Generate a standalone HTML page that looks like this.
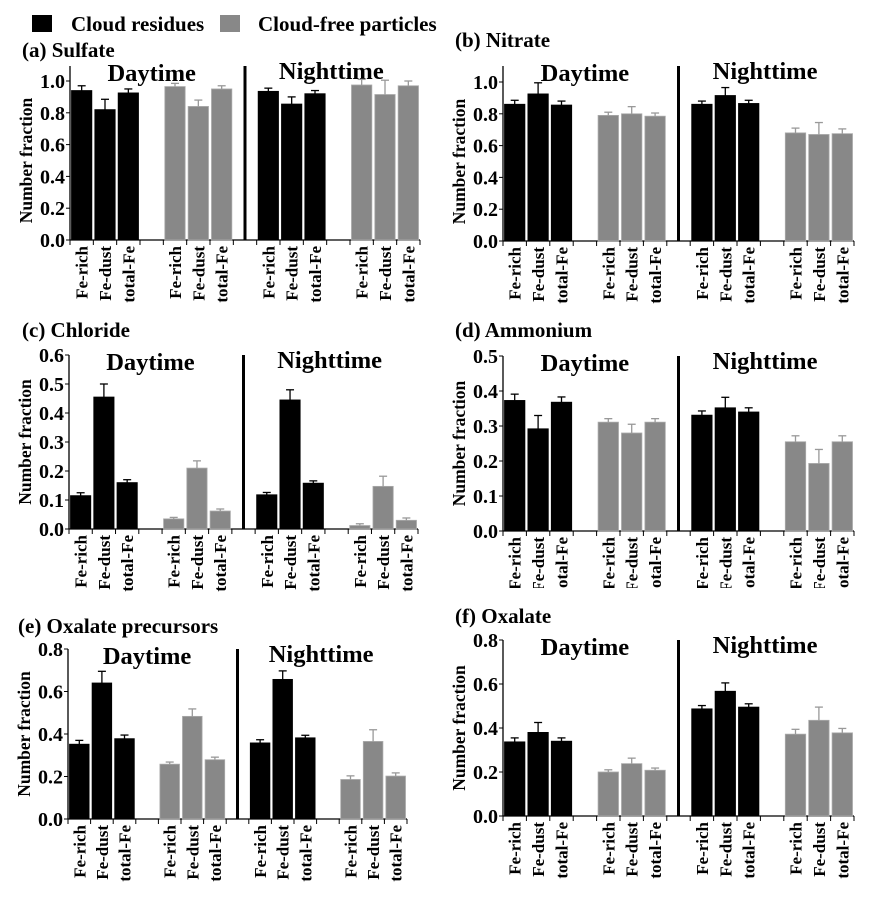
<!DOCTYPE html>
<html><head><meta charset="utf-8"><style>
html,body{margin:0;padding:0;background:#fff;}
svg{display:block;}
svg text{font-family:"Liberation Serif",serif;font-weight:bold;}
</style></head><body>
<svg id="fig" width="873" height="898" viewBox="0 0 873 898" xmlns="http://www.w3.org/2000/svg">
<defs><clipPath id="clipD"><rect x="440" y="300" width="433" height="288"/></clipPath></defs>
<g>
<rect x="32" y="15" width="20" height="17" fill="#000"/>
<text x="71" y="31" font-size="21" font-weight="bold">Cloud residues</text>
<rect x="220" y="15" width="20" height="17" fill="#888"/>
<text x="258" y="31" font-size="21" font-weight="bold">Cloud-free particles</text>
</g>
</svg>
<script>
const categories = ["Fe-rich","Fe-dust","total-Fe"];
// panel a: Sulfate
const aDayRes=[0.94,0.82,0.925], aDayResErr=[0.03,0.065,0.025];
const aDayFree=[0.965,0.84,0.95], aDayFreeErr=[0.02,0.04,0.02];
const aNightRes=[0.935,0.855,0.92], aNightResErr=[0.02,0.045,0.02];
const aNightFree=[0.975,0.915,0.97], aNightFreeErr=[0.035,0.09,0.03];
const aTicks=["0.0","0.2","0.4","0.6","0.8","1.0"];
// panel b: Nitrate
const bDayRes=[0.86,0.925,0.855], bDayResErr=[0.025,0.07,0.025];
const bDayFree=[0.79,0.80,0.785], bDayFreeErr=[0.02,0.045,0.02];
const bNightRes=[0.86,0.915,0.865], bNightResErr=[0.02,0.05,0.02];
const bNightFree=[0.68,0.67,0.675], bNightFreeErr=[0.03,0.075,0.03];
const bTicks=["0.0","0.2","0.4","0.6","0.8","1.0"];
// panel c: Chloride
const cDayRes=[0.115,0.455,0.16], cDayResErr=[0.01,0.045,0.01];
const cDayFree=[0.035,0.21,0.062], cDayFreeErr=[0.005,0.025,0.007];
const cNightRes=[0.118,0.445,0.158], cNightResErr=[0.008,0.035,0.008];
const cNightFree=[0.012,0.147,0.03], cNightFreeErr=[0.006,0.035,0.008];
const cTicks=["0.0","0.1","0.2","0.3","0.4","0.5","0.6"];
// panel d: Ammonium
const dDayRes=[0.373,0.292,0.368], dDayResErr=[0.018,0.038,0.015];
const dDayFree=[0.311,0.28,0.311], dDayFreeErr=[0.01,0.025,0.01];
const dNightRes=[0.331,0.352,0.34], dNightResErr=[0.012,0.03,0.012];
const dNightFree=[0.255,0.193,0.255], dNightFreeErr=[0.017,0.04,0.017];
const dTicks=["0.0","0.1","0.2","0.3","0.4","0.5"];
// panel e: Oxalate precursors
const eDayRes=[0.352,0.64,0.378], eDayResErr=[0.018,0.055,0.017];
const eDayFree=[0.258,0.483,0.279], eDayFreeErr=[0.01,0.035,0.012];
const eNightRes=[0.358,0.657,0.382], eNightResErr=[0.015,0.04,0.012];
const eNightFree=[0.186,0.365,0.202], eNightFreeErr=[0.017,0.055,0.015];
const eTicks=["0.0","0.2","0.4","0.6","0.8"];
// panel f: Oxalate
const fDayRes=[0.337,0.38,0.34], fDayResErr=[0.018,0.045,0.015];
const fDayFree=[0.2,0.238,0.208], fDayFreeErr=[0.01,0.025,0.01];
const fNightRes=[0.487,0.567,0.495], fNightResErr=[0.015,0.038,0.015];
const fNightFree=[0.372,0.435,0.378], fNightFreeErr=[0.022,0.06,0.02];
const fTicks=["0.0","0.2","0.4","0.6","0.8"];

const NS="http://www.w3.org/2000/svg";
const svg=document.getElementById('fig');
function mk(tag,attrs,parent){const e=document.createElementNS(NS,tag);for(const k in attrs)e.setAttribute(k,attrs[k]);if(tag==='text')e.setAttribute('font-weight','bold');(parent||svg).appendChild(e);return e;}

function panel(id,title,tx,ty,x0,x1,y0,refVal,refY,topY,ticks,groups,clip){
  const g=mk('g',{});
  
  
  if(clip) g.setAttribute('clip-path','url(#'+clip+')');
  const scale=(y0-refY)/refVal;
  const Y=v=>y0-v*scale;
  const slot=(x1-x0)/15;
  const X=i=>x0+i*slot;
  const t=mk('text',{x:tx,y:ty,'font-size':21},g); t.textContent=title;
  
  
  const ya=mk('line',{x1:x0,y1:topY,x2:x0,y2:y0,stroke:'#000','stroke-width':1.3},g);
  
  
  const xa=mk('line',{x1:x0,y1:y0,x2:x1,y2:y0,stroke:'#000','stroke-width':1.3},g);
  
  
  for(let i=0;i<=15;i++){mk('line',{x1:X(i),y1:y0,x2:X(i),y2:y0+5,stroke:'#000','stroke-width':1},g);}
  ticks.forEach(s=>{const v=parseFloat(s);const yy=Y(v);
    mk('line',{x1:x0-4,y1:yy,x2:x0,y2:yy,stroke:'#000','stroke-width':1},g);
    const tl=mk('text',{x:x0-5,y:yy+7,'font-size':20,'text-anchor':'end'},g);tl.textContent=s;
    
    
  });
  const yl=mk('text',{x:0,y:0,'font-size':17.5,'text-anchor':'middle',transform:`translate(${x0-38},${(y0+refY)/2}) rotate(-90)`},g);
  yl.textContent='Number fraction';
  
  
  const dv=mk('line',{x1:X(7.5),y1:topY,x2:X(7.5),y2:y0,stroke:'#000','stroke-width':3},g);
  
  
  const dt=mk('text',{x:X(3.5),y:topY+15,'font-size':24.5,'text-anchor':'middle'},g);dt.textContent='Daytime';
  
  
  const nt=mk('text',{x:X(11.2),y:topY+13,'font-size':24.5,'text-anchor':'middle'},g);nt.textContent='Nighttime';
  
  
  const starts=[0,4,8,12];
  groups.forEach((gr,gi)=>{
    const [vals,errs,color,nm]=gr;
    vals.forEach((v,i)=>{
      const s=starts[gi]+i;
      const bx=X(s)+1.5, bw=slot-3;
      const r=mk('rect',{x:bx,y:Y(v),width:bw,height:y0-Y(v),fill:color,stroke:color==='#000'?'#000':'#aaa','stroke-width':0.8},g);
      
      
      const cx=X(s+0.5), ec=color==='#000'?'#000':'#999';
      const top=Y(v+errs[i]);
      mk('line',{x1:cx,y1:Y(v),x2:cx,y2:top,stroke:ec,'stroke-width':1.3},g);
      mk('line',{x1:cx-4,y1:top,x2:cx+4,y2:top,stroke:ec,'stroke-width':1.3},g);
      const lb=mk('text',{x:0,y:0,'font-size':17,'text-anchor':'end',transform:`translate(${cx+6},${y0+6}) rotate(-90)`},g);
      lb.textContent=categories[i];
      
      
    });
  });
}
const B='#000',G='#888';
panel('a','(a) Sulfate',22,57,70,420,240,1.0,81,66,aTicks,[[aDayRes,aDayResErr,B,'day-res'],[aDayFree,aDayFreeErr,G,'day-free'],[aNightRes,aNightResErr,B,'night-res'],[aNightFree,aNightFreeErr,G,'night-free']]);
panel('b','(b) Nitrate',455,47,503,854,241,1.0,82,66,bTicks,[[bDayRes,bDayResErr,B,'day-res'],[bDayFree,bDayFreeErr,G,'day-free'],[bNightRes,bNightResErr,B,'night-res'],[bNightFree,bNightFreeErr,G,'night-free']]);
panel('c','(c) Chloride',22,337,69,418,529,0.6,355,355,cTicks,[[cDayRes,cDayResErr,B,'day-res'],[cDayFree,cDayFreeErr,G,'day-free'],[cNightRes,cNightResErr,B,'night-res'],[cNightFree,cNightFreeErr,G,'night-free']]);
panel('d','(d) Ammonium',455,337,503,854,531,0.5,356,356,dTicks,[[dDayRes,dDayResErr,B,'day-res'],[dDayFree,dDayFreeErr,G,'day-free'],[dNightRes,dNightResErr,B,'night-res'],[dNightFree,dNightFreeErr,G,'night-free']],'clipD');
panel('e','(e) Oxalate precursors',18,633,68,407,819,0.8,649,649,eTicks,[[eDayRes,eDayResErr,B,'day-res'],[eDayFree,eDayFreeErr,G,'day-free'],[eNightRes,eNightResErr,B,'night-res'],[eNightFree,eNightFreeErr,G,'night-free']]);
panel('f','(f) Oxalate',455,623,503,854,816,0.8,640,640,fTicks,[[fDayRes,fDayResErr,B,'day-res'],[fDayFree,fDayFreeErr,G,'day-free'],[fNightRes,fNightResErr,B,'night-res'],[fNightFree,fNightFreeErr,G,'night-free']]);
</script>
</body></html>
